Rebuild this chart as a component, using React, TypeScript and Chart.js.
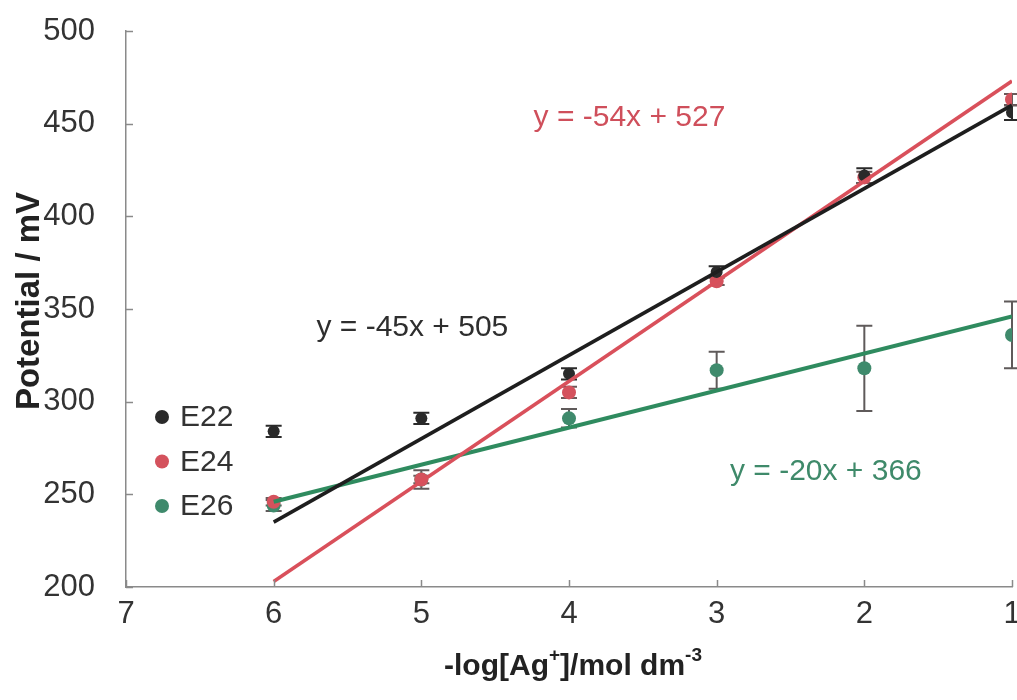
import React, { useEffect, useRef } from "react";
import { Chart, registerables } from "chart.js";

Chart.register(...registerables);

// ---- data ----
const xValues = [6, 5, 4, 3, 2, 1];
const e22Values = [284, 291, 315, 370, 422, 456];
const e22Errors = [3, 3, 3, 3, 4, 4];
const e24Values = [246, 258, 305, 365, 421, 463];
const e24Errors = [2, 2, 3, 2, 3, 3];
const e26Values = [244, 258, 291, 317, 318, 336];
const e26Errors = [3, 5, 5, 10, 23, 18];

const trendX = [6, 1];
const e22Trend = [235, 460];
const e24Trend = [203, 473];
const e26Trend = [246, 346];

const seriesNames = ["E22", "E24", "E26"];
const equations = ["y = -45x + 505", "y = -54x + 527", "y = -20x + 366"];
const xTicks = [7, 6, 5, 4, 3, 2, 1];
const yTicks = [200, 250, 300, 350, 400, 450, 500];

const xTitleParts = ["-log[Ag", "+", "]/mol dm", "-3"];
const yTitle = "Potential / mV";

// ---- styles ----
const FONT = "'Liberation Sans', Arial, sans-serif";
const pointColors = ["#2a2a2a", "#d4525d", "#3f8a6c"];
const lineColors = ["#1e1e1e", "#d9505b", "#2f8b5f"];
const textColors = ["#2e2e2e", "#cf4f5b", "#3f8a6a"];
const errColors = ["#2a2a2a", "#6a5a5a", "#5f5a5a"];
const axisColor = "#8a8a8a";
const tickTextColor = "#333333";
// equation anchors in data coordinates (left edge, vertical middle)
const eqAnchors = [
  { x: 5.71, y: 340 },
  { x: 4.24, y: 453 },
  { x: 2.91, y: 262 },
];

const overlayPlugin = {
  id: "overlay",
  beforeDatasetsDraw(chart: any) {
    const ctx = chart.ctx;
    const xs = chart.scales.x;
    const ys = chart.scales.y;
    const sets = [
      { v: e22Values, e: e22Errors, c: errColors[0] },
      { v: e24Values, e: e24Errors, c: errColors[1] },
      { v: e26Values, e: e26Errors, c: errColors[2] },
    ];
    ctx.save();
    ctx.lineWidth = 2;
    sets.forEach((s) => {
      ctx.strokeStyle = s.c;
      s.v.forEach((val, i) => {
        const px = xs.getPixelForValue(xValues[i]);
        const top = ys.getPixelForValue(val + s.e[i]);
        const bot = ys.getPixelForValue(val - s.e[i]);
        ctx.beginPath();
        ctx.moveTo(px, top);
        ctx.lineTo(px, bot);
        ctx.moveTo(px - 8, top);
        ctx.lineTo(px + 8, top);
        ctx.moveTo(px - 8, bot);
        ctx.lineTo(px + 8, bot);
        ctx.stroke();
      });
    });
    ctx.restore();
  },
  afterDraw(chart: any) {
    const ctx = chart.ctx;
    const xs = chart.scales.x;
    const ys = chart.scales.y;
    const area = chart.chartArea;
    ctx.save();
    // inside tick marks
    ctx.strokeStyle = axisColor;
    ctx.lineWidth = 1.5;
    ctx.beginPath();
    yTicks.forEach((t) => {
      const py = Math.round(ys.getPixelForValue(t)) + 0.5;
      ctx.moveTo(area.left, py);
      ctx.lineTo(area.left + 7, py);
    });
    xTicks.forEach((t) => {
      const px = Math.round(xs.getPixelForValue(t)) + 0.5;
      ctx.moveTo(px, area.bottom);
      ctx.lineTo(px, area.bottom - 7);
    });
    ctx.stroke();

    // legend
    ctx.font = `30px ${FONT}`;
    ctx.textBaseline = "middle";
    ctx.textAlign = "left";
    seriesNames.forEach((name, i) => {
      const cy = area.top + 386 + i * 44.5;
      ctx.fillStyle = pointColors[i];
      ctx.beginPath();
      ctx.arc(area.left + 36, cy, 7, 0, Math.PI * 2);
      ctx.fill();
      ctx.fillStyle = tickTextColor;
      ctx.fillText(name, area.left + 54, cy + 1);
    });

    // equations
    equations.forEach((eq, i) => {
      ctx.fillStyle = textColors[i];
      ctx.fillText(eq, xs.getPixelForValue(eqAnchors[i].x), ys.getPixelForValue(eqAnchors[i].y));
    });

    // y title
    ctx.save();
    ctx.translate(30, (area.top + area.bottom) / 2 - 8);
    ctx.rotate(-Math.PI / 2);
    ctx.font = `bold 33px ${FONT}`;
    ctx.fillStyle = "#222";
    ctx.textAlign = "center";
    ctx.textBaseline = "middle";
    ctx.fillText(yTitle, 0, 0);
    ctx.restore();

    // x title with superscripts
    const mainFont = `bold 30px ${FONT}`;
    const supFont = `bold 19px ${FONT}`;
    const widths = xTitleParts.map((p, i) => {
      ctx.font = i % 2 === 0 ? mainFont : supFont;
      return ctx.measureText(p).width;
    });
    const total = widths.reduce((a, b) => a + b, 0);
    let x = (area.left + area.right) / 2 + 4 - total / 2;
    const baseY = 675;
    ctx.textAlign = "left";
    ctx.textBaseline = "alphabetic";
    ctx.fillStyle = "#222";
    xTitleParts.forEach((p, i) => {
      ctx.font = i % 2 === 0 ? mainFont : supFont;
      ctx.fillText(p, x, i % 2 === 0 ? baseY : baseY - 14);
      x += widths[i];
    });
    ctx.restore();
  },
};

export default function App() {
  const canvasRef = useRef<HTMLCanvasElement | null>(null);

  useEffect(() => {
    if (!canvasRef.current) return;
    const toPts = (vals: number[], xsArr: number[]) => vals.map((v, i) => ({ x: xsArr[i], y: v }));
    const chart = new Chart(canvasRef.current, {
      type: "scatter",
      data: {
        datasets: [
          {
            label: "E22 trend",
            data: toPts(e22Trend, trendX),
            showLine: true,
            borderColor: lineColors[0],
            borderWidth: 3.5,
            pointRadius: 0,
            order: 0,
          },
          {
            label: "E24 trend",
            data: toPts(e24Trend, trendX),
            showLine: true,
            borderColor: lineColors[1],
            borderWidth: 3.5,
            pointRadius: 0,
            order: 0,
          },
          {
            label: "E26 trend",
            data: toPts(e26Trend, trendX),
            showLine: true,
            borderColor: lineColors[2],
            borderWidth: 4,
            pointRadius: 0,
            order: 0,
          },
          {
            label: seriesNames[0],
            data: toPts(e22Values, xValues),
            backgroundColor: pointColors[0],
            borderWidth: 0,
            pointRadius: 6,
            order: 1,
          },
          {
            label: seriesNames[1],
            data: toPts(e24Values, xValues),
            backgroundColor: pointColors[1],
            borderWidth: 0,
            pointRadius: 7,
            order: 1,
          },
          {
            label: seriesNames[2],
            data: toPts(e26Values, xValues),
            backgroundColor: pointColors[2],
            borderWidth: 0,
            pointRadius: 7,
            order: 1,
          },
        ],
      },
      options: {
        responsive: false,
        maintainAspectRatio: false,
        animation: false,
        devicePixelRatio: 1,
        layout: { autoPadding: false, padding: { left: 0, right: 48, top: 31, bottom: 0 } },
        plugins: {
          legend: { display: false },
          tooltip: { enabled: false },
          title: { display: false },
        },
        scales: {
          x: {
            type: "linear",
            min: 1,
            max: 7,
            reverse: true,
            afterFit: (s: any) => {
              s.height = 113;
              s.paddingLeft = 0;
              s.paddingRight = 0;
            },
            afterBuildTicks: (s: any) => {
              s.ticks = xTicks.map((v) => ({ value: v }));
            },
            grid: { display: false },
            border: { display: true, color: axisColor, width: 1.5 },
            ticks: {
              font: { family: FONT, size: 31 },
              color: tickTextColor,
              padding: 1,
              maxRotation: 0,
            },
          },
          y: {
            type: "linear",
            min: 200,
            max: 500,
            afterFit: (s: any) => {
              s.width = 126;
              s.paddingTop = 0;
              s.paddingBottom = 0;
            },
            afterBuildTicks: (s: any) => {
              s.ticks = yTicks.map((v) => ({ value: v }));
            },
            grid: { display: false },
            border: { display: true, color: axisColor, width: 1.5 },
            ticks: {
              font: { family: FONT, size: 31 },
              color: tickTextColor,
              padding: 23,
            },
          },
        },
      },
      plugins: [overlayPlugin],
    } as any);
    return () => chart.destroy();
  }, []);

  return (
    <div style={{ position: "fixed", left: 0, top: 0, width: 1060, height: 700, background: "#fff" }}>
      <canvas ref={canvasRef} width={1060} height={700} style={{ display: "block", width: 1060, height: 700 }} />
    </div>
  );
}
